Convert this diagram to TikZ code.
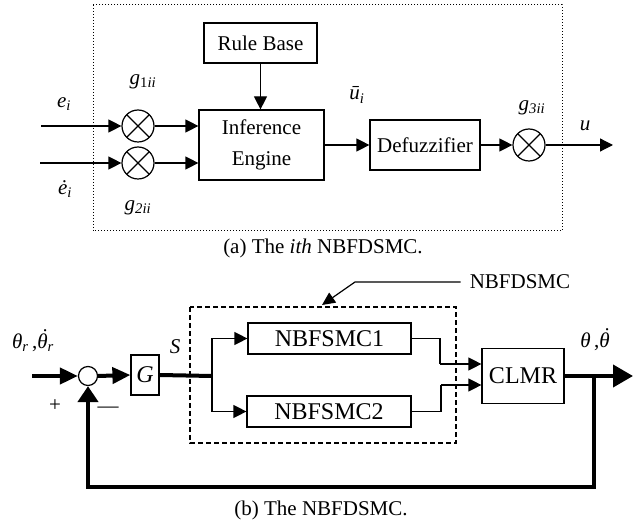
\documentclass[tikz,border=0pt]{standalone}
\usepackage{fontspec}
\setmainfont{Liberation Serif}
\usetikzlibrary{arrows.meta,calc}
\newcommand{\dotth}{\ooalign{θ\cr\hidewidth\raisebox{0.24em}{\kern0.12em\char"02D9}\hidewidth\cr}}
\begin{document}
\begin{tikzpicture}[x=1pt,y=-1pt,line join=miter,
  lbl/.style={inner sep=0pt,font=\fontsize{21}{25}\selectfont},
  blk/.style={draw,line width=1.2pt,inner sep=0pt,font=\fontsize{21}{31}\selectfont,align=center},
  bblk/.style={draw,line width=1.2pt,inner sep=0pt,font=\fontsize{24}{28}\selectfont},
  mult/.style={draw,circle,line width=1.2pt,minimum size=32pt,inner sep=0pt,
    path picture={\draw[line width=1.2pt] (path picture bounding box.north west)--(path picture bounding box.south east)
      (path picture bounding box.north east)--(path picture bounding box.south west);}},
  sarrow/.style={line width=1.2pt,-{Triangle[length=13pt,width=13pt]}},
  sline/.style={line width=1.2pt},
  tarrow/.style={line width=4pt,-{Triangle[length=18pt,width=16pt]}},
  tline/.style={line width=4pt},
]
\useasboundingbox (0,0) rectangle (635,529);

% ---------- (a) ----------
\draw[dotted,line width=1pt] (93,5) rectangle (562,231);
\node[blk,minimum width=113pt,minimum height=40pt] (rule) at (260.5,43) {Rule Base};
\node[blk,minimum width=125pt,minimum height=70pt] (inf) at (261.5,145) {Inference\\Engine};
\node[blk,minimum width=110pt,minimum height=50pt] (def) at (425,145) {Defuzzifier};
\node[mult] (c1) at (138,126) {};
\node[mult] (c2) at (138,163) {};
\node[mult] (c3) at (529,145) {};
\coordinate (in1) at (41,126);
\coordinate (in2) at (40,163);
\coordinate (out) at (613,145);

\draw[sarrow] (in1) -- (c1.west);
\draw[sarrow] (in2) -- (c2.west);
\draw[sarrow] (c1.east) -- (c1.east -| inf.west);
\draw[sarrow] (c2.east) -- (c2.east -| inf.west);
\draw[sarrow] (rule.south) -- (rule.south |- inf.north);
\draw[sarrow] (inf.east |- def.west) -- (def.west);
\draw[sarrow] (def.east) -- (c3.west);
\draw[sarrow] (c3.east) -- (out);

\node[lbl] (lg1) at (143,82) {{\itshape g}\textsubscript{1\itshape ii}};
\node[lbl] (le) at (64,104) {{\itshape e}\textsubscript{\itshape i}};
\node[lbl] (led) at (65,189) {{\itshape \.{e}}\textsubscript{\itshape i}};
\node[lbl] (lg2) at (138,208) {{\itshape g}\textsubscript{\itshape 2ii}};
\node[lbl] (lu) at (357,95) {{\itshape \={u}}\textsubscript{\itshape i}};
\node[lbl] (lg3) at (532,108) {{\itshape g}\textsubscript{\itshape 3ii}};
\node[lbl] (lout) at (585,126) {\itshape u};
\node[lbl,anchor=base] (capa) at (323,254) {(a) The \textit{ith} NBFDSMC.};

% ---------- (b) ----------
\draw[dashed,line width=1.2pt,dash pattern=on 5pt off 3pt] (190,307) rectangle (456,443);
\node[bblk,minimum width=163pt,minimum height=31pt] (nb1) at (329.5,338.5) {NBFSMC1};
\node[bblk,minimum width=164pt,minimum height=31pt] (nb2) at (329,411.5) {NBFSMC2};
\node[bblk,minimum width=82pt,minimum height=55pt] (clmr) at (523,376) {CLMR};
\node[bblk,minimum width=28pt,minimum height=40pt] (g) at (145,375) {\itshape G};
\node[draw,circle,line width=1.2pt,minimum size=19pt,inner sep=0pt] (sum) at (88,376) {};

\coordinate (rin) at (32,376);
\coordinate (br) at (212,376);
\coordinate (j1) at (440,364);
\coordinate (j2) at (441,385);
\coordinate (yout) at (633,376);
\coordinate (fb) at (594,376);
\coordinate (fbb) at (594,487);

\draw[tarrow] (rin) -- (sum.west);
\draw[tarrow] (sum.east) -- (g.west);
\draw[tline] (g.east) -- (br);
\draw[sarrow] (br) |- (nb1.west);
\draw[sarrow] (br) |- (nb2.west);
\draw[sline] (nb1.east) -| (j1);
\draw[sarrow] (j1) -- (clmr.west |- j1);
\draw[sline] (nb2.east) -| (j2);
\draw[sarrow] (j2) -- (clmr.west |- j2);
\draw[line width=4pt,-{Triangle[length=20pt,width=22pt]}] (clmr.east) -- (yout);
\draw[line width=4pt,-{Triangle[length=16pt,width=20pt]}] (fb) -- (fbb) -| (sum.south);

\node[lbl] (lth) at (33,343) {{\itshape θ}\textsubscript{\itshape r}\,,{\itshape \dotth}\textsubscript{\itshape r}};
\node[lbl] (ls) at (175,347) {\itshape S};
\node[lbl] (lplus) at (55,406) {+};
\node[lbl] (lminus) at (108,410) {—};
\node[lbl] (lthy) at (595,342) {{\itshape θ}\,,{\itshape \dotth}};

\node[lbl] (lnb) at (520,282) {NBFDSMC};
\coordinate (k1) at (355,282);
\coordinate (k2) at (322,305);
\draw[line width=1.2pt,-{Triangle[length=13pt,width=12pt]}] (lnb.west) ++(-9,0) -- (k1) -- (k2);

\node[lbl,anchor=base] (capb) at (321,515) {(b) The NBFDSMC.};
\end{tikzpicture}
\end{document}
